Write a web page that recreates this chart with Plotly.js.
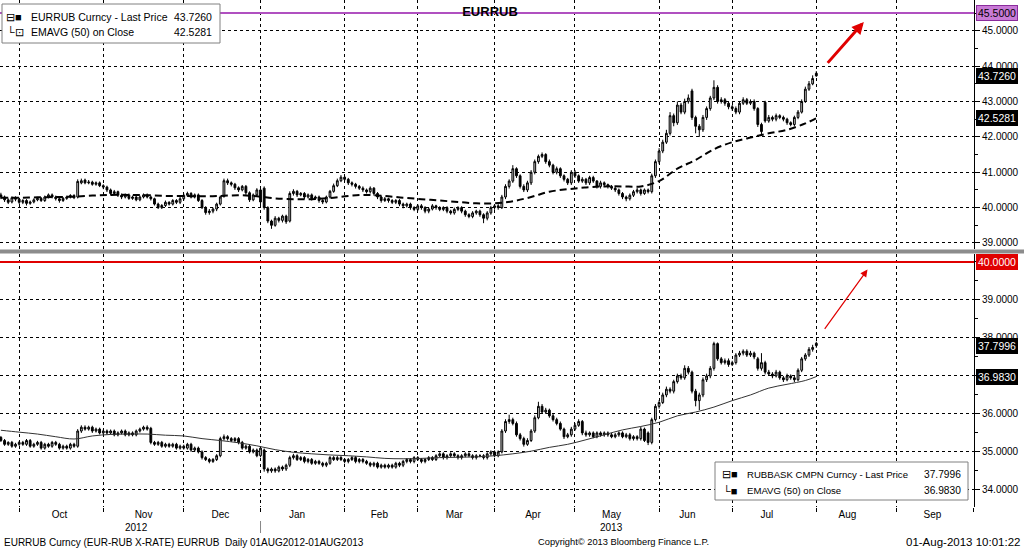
<!DOCTYPE html>
<html><head><meta charset="utf-8">
<script src="https://cdn.plot.ly/plotly-3.0.1.min.js"></script>
<style>html,body{margin:0;padding:0;background:#fff;}#chart{width:1024px;height:549px;}</style>
</head><body><div id="chart"></div>
<script>
// ---------- DATA ----------
// EURRUB daily OHLC (24-Sep-2012 .. 01-Aug-2013), one line per month
const eurOpen = [
 40.36,40.30,40.22,40.16,40.28,
 40.24,40.15,40.20,40.12,40.16,40.22,40.26,40.20,40.30,40.36,40.30,40.25,40.20,40.26,40.30,40.34,40.30,40.70,40.78,40.70,40.72,40.66,40.70,
 40.62,40.58,40.50,40.40,40.45,40.35,40.30,40.36,40.26,40.30,40.22,40.30,40.36,40.30,40.25,40.10,40.00,40.06,40.15,40.10,40.20,40.15,
 40.25,40.35,40.40,40.30,40.36,40.20,40.00,39.86,39.90,39.96,40.10,40.32,40.76,40.70,40.66,40.56,40.50,40.60,40.42,40.22,40.36,
 40.50,40.55,40.00,39.62,39.50,39.70,39.64,39.76,39.62,40.40,40.46,40.36,40.40,40.30,40.36,40.26,40.30,40.20,40.16,40.30,40.46,40.62,40.76,
 40.86,40.80,40.70,40.66,40.60,40.55,40.50,40.45,40.55,40.40,40.30,40.20,40.25,40.20,40.15,40.20,40.10,40.05,40.10,40.00,
 39.95,40.05,40.00,39.90,39.96,40.05,40.00,39.95,40.00,39.90,39.85,39.95,40.00,39.90,39.80,39.75,39.85,39.90,39.80,39.70,39.85,
 40.00,40.05,40.00,40.30,40.60,40.75,41.10,40.90,40.60,40.50,40.70,41.00,41.30,41.45,41.50,41.30,41.20,41.00,41.10,40.90,40.80,40.70,
 41.00,40.90,40.75,40.80,40.70,40.85,40.75,40.60,40.70,40.65,40.60,40.55,40.50,40.40,40.30,40.25,40.35,40.45,40.50,40.40,40.50,40.45,40.90,
 41.30,41.60,41.85,42.10,42.60,42.40,42.90,42.70,43.00,43.30,42.55,42.30,42.20,42.55,42.80,43.10,43.40,43.00,43.05,42.95,
 42.85,42.80,42.70,42.95,43.05,42.95,43.00,42.80,42.35,42.98,42.45,42.55,42.50,42.60,42.55,42.50,42.40,42.35,42.55,42.70,43.00,43.35,43.50,
 43.80];
const eurHigh = [
 40.42,40.34,40.26,40.32,40.32,
 40.28,40.24,40.24,40.20,40.26,40.30,40.30,40.34,40.40,40.40,40.34,40.28,40.30,40.34,40.38,40.38,40.80,40.82,40.82,40.78,40.76,40.74,40.74,
 40.66,40.62,40.54,40.50,40.48,40.40,40.40,40.40,40.34,40.34,40.34,40.40,40.40,40.34,40.28,40.14,40.10,40.20,40.18,40.24,40.24,40.30,
 40.40,40.45,40.44,40.40,40.40,40.24,40.04,39.96,40.00,40.14,40.34,40.82,40.82,40.74,40.70,40.60,40.64,40.64,40.46,40.40,40.55,
 40.55,40.60,40.04,39.66,39.76,39.74,39.80,39.80,40.46,40.52,40.50,40.44,40.44,40.40,40.40,40.34,40.34,40.24,40.34,40.50,40.68,40.82,40.92,
 40.90,40.84,40.74,40.70,40.64,40.60,40.54,40.60,40.58,40.44,40.34,40.30,40.28,40.24,40.24,40.24,40.14,40.14,40.14,40.04,
 40.10,40.10,40.04,40.00,40.10,40.08,40.04,40.04,40.04,39.94,40.00,40.04,40.04,39.94,39.84,39.90,39.94,39.94,39.84,39.90,40.05,
 40.10,40.10,40.36,40.66,40.80,41.20,41.14,40.94,40.66,40.76,41.06,41.36,41.50,41.56,41.54,41.36,41.24,41.16,41.14,40.94,40.84,41.06,
 41.06,40.94,40.86,40.84,40.90,40.90,40.78,40.76,40.74,40.68,40.64,40.58,40.54,40.44,40.34,40.40,40.50,40.56,40.54,40.54,40.54,40.96,41.36,
 41.68,41.92,42.20,42.70,42.66,43.00,42.96,43.08,43.20,43.36,42.60,42.36,42.62,42.86,43.16,43.60,43.46,43.12,43.10,43.00,
 42.90,42.86,43.00,43.12,43.10,43.06,43.06,42.84,42.40,43.02,42.62,42.60,42.66,42.64,42.60,42.54,42.44,42.60,42.76,43.06,43.42,43.58,43.74,
 43.86];
const eurLow = [
 40.24,40.16,40.10,40.12,40.18,
 40.10,40.10,40.06,40.08,40.12,40.18,40.16,40.16,40.26,40.26,40.20,40.14,40.16,40.22,40.26,40.24,40.26,40.66,40.66,40.66,40.62,40.62,40.58,
 40.52,40.44,40.34,40.36,40.30,40.24,40.26,40.22,40.22,40.18,40.18,40.26,40.26,40.20,40.06,39.96,39.96,40.02,40.06,40.06,40.10,40.10,
 40.20,40.30,40.26,40.26,40.16,39.96,39.80,39.80,39.84,39.90,40.06,40.28,40.64,40.60,40.50,40.44,40.46,40.36,40.16,40.18,40.30,
 40.10,39.94,39.56,39.40,39.46,39.58,39.58,39.54,39.58,40.34,40.30,40.32,40.24,40.26,40.20,40.22,40.14,40.10,40.12,40.26,40.42,40.58,40.72,
 40.74,40.64,40.60,40.54,40.50,40.44,40.40,40.40,40.34,40.24,40.14,40.16,40.14,40.10,40.10,40.04,39.98,40.00,39.94,39.90,
 39.90,39.94,39.84,39.84,39.92,39.94,39.90,39.90,39.84,39.80,39.80,39.90,39.84,39.74,39.70,39.70,39.80,39.74,39.56,39.64,39.80,
 39.94,39.94,39.96,40.24,40.54,40.70,40.84,40.54,40.44,40.44,40.64,40.94,41.24,41.40,41.24,41.14,40.94,40.94,40.84,40.74,40.64,40.64,
 40.84,40.70,40.70,40.64,40.64,40.70,40.54,40.54,40.60,40.54,40.50,40.44,40.34,40.24,40.18,40.20,40.30,40.40,40.34,40.36,40.40,40.40,40.84,
 41.24,41.54,41.80,42.04,42.30,42.34,42.64,42.64,42.94,42.48,42.10,42.00,42.14,42.48,42.74,43.04,42.94,42.94,42.88,42.78,
 42.74,42.64,42.64,42.90,42.90,42.90,42.74,42.28,42.05,42.40,42.40,42.44,42.44,42.50,42.44,42.34,42.30,42.30,42.50,42.66,42.96,43.30,43.46,
 43.70];
const eurClose = [
 40.30,40.22,40.15,40.28,40.24,
 40.15,40.20,40.12,40.16,40.22,40.26,40.20,40.30,40.36,40.30,40.25,40.20,40.26,40.30,40.34,40.28,40.74,40.76,40.70,40.72,40.66,40.70,40.62,
 40.58,40.50,40.40,40.45,40.35,40.30,40.36,40.26,40.30,40.22,40.30,40.36,40.30,40.25,40.10,40.00,40.06,40.15,40.10,40.20,40.15,40.25,
 40.35,40.40,40.30,40.36,40.20,40.00,39.86,39.90,39.96,40.10,40.30,40.76,40.70,40.66,40.56,40.50,40.60,40.42,40.22,40.36,40.50,
 40.16,40.00,39.62,39.50,39.70,39.64,39.76,39.60,40.40,40.46,40.36,40.40,40.30,40.36,40.26,40.30,40.20,40.16,40.30,40.46,40.62,40.76,40.86,
 40.80,40.70,40.66,40.60,40.55,40.50,40.45,40.55,40.40,40.30,40.20,40.25,40.20,40.15,40.20,40.10,40.05,40.10,40.00,39.95,
 40.05,40.00,39.90,39.96,40.05,40.00,39.95,40.00,39.90,39.85,39.95,40.00,39.90,39.80,39.75,39.85,39.90,39.80,39.70,39.85,40.00,
 40.05,40.00,40.30,40.60,40.75,41.10,40.90,40.60,40.50,40.70,41.00,41.30,41.45,41.50,41.30,41.20,41.00,41.10,40.90,40.80,40.70,41.00,
 40.90,40.75,40.80,40.70,40.85,40.75,40.60,40.70,40.65,40.60,40.55,40.50,40.40,40.30,40.25,40.35,40.45,40.50,40.40,40.50,40.45,40.90,41.30,
 41.60,41.85,42.10,42.60,42.40,42.90,42.70,43.00,43.10,42.55,42.30,42.20,42.55,42.80,43.10,43.40,43.00,43.05,42.95,42.85,
 42.80,42.70,42.95,43.05,42.95,43.00,42.80,42.35,42.15,42.45,42.55,42.50,42.60,42.55,42.50,42.40,42.35,42.55,42.70,43.00,43.35,43.50,43.65,
 43.726];

// RUBBASK CMPN daily OHLC
const basOpen = [
 35.38,35.30,35.20,35.25,35.15,
 35.20,35.25,35.20,35.30,35.15,35.20,35.25,35.10,35.20,35.15,35.25,35.20,35.10,35.15,35.10,35.20,35.15,35.55,35.65,35.60,35.65,35.55,35.60,
 35.50,35.55,35.50,35.55,35.45,35.50,35.55,35.45,35.50,35.45,35.55,35.60,35.65,35.62,35.25,35.20,35.25,35.15,35.20,35.15,35.20,35.10,
 35.15,35.10,35.20,35.05,35.10,35.00,34.85,34.80,34.75,34.80,34.90,35.35,35.40,35.35,35.30,35.35,35.25,35.10,35.15,35.00,35.05,
 34.90,35.05,34.55,34.50,34.55,34.50,34.60,34.55,34.65,34.85,34.90,34.80,34.85,34.75,34.80,34.70,34.75,34.70,34.65,34.70,34.85,34.80,34.85,
 34.80,34.75,34.80,34.85,34.75,34.80,34.75,34.70,34.65,34.70,34.60,34.65,34.60,34.65,34.60,34.70,34.65,34.75,34.80,34.75,
 34.85,34.80,34.75,34.80,34.85,34.80,34.90,34.95,34.85,34.90,34.95,34.90,34.85,34.90,34.95,34.90,34.85,34.90,34.90,34.85,34.95,
 35.00,34.90,35.00,35.55,35.80,35.85,35.75,35.45,35.35,35.20,35.30,35.55,35.90,36.20,36.05,36.10,35.95,35.85,35.75,35.60,35.40,35.45,
 35.60,35.70,35.80,35.50,35.45,35.50,35.40,35.50,35.45,35.50,35.45,35.40,35.45,35.50,35.40,35.45,35.35,35.40,35.35,35.60,35.50,35.25,35.85,
 36.20,36.30,36.50,36.65,36.60,36.85,37.00,36.95,37.20,37.10,36.60,36.35,36.50,36.90,37.00,37.20,37.85,37.45,37.35,37.40,
 37.30,37.35,37.55,37.60,37.65,37.55,37.60,37.45,37.20,37.35,37.10,37.05,37.00,37.10,36.95,36.90,37.00,36.95,36.90,37.15,37.45,37.55,37.70,
 37.86];
const basHigh = [
 35.42,35.34,35.28,35.29,35.24,
 35.29,35.29,35.34,35.34,35.24,35.29,35.29,35.24,35.24,35.29,35.29,35.24,35.19,35.19,35.24,35.24,35.60,35.70,35.70,35.69,35.69,35.64,35.64,
 35.59,35.59,35.59,35.59,35.54,35.59,35.59,35.54,35.54,35.59,35.64,35.69,35.70,35.66,35.29,35.29,35.29,35.24,35.24,35.24,35.24,35.19,
 35.19,35.24,35.24,35.14,35.14,35.04,34.89,34.84,34.84,34.94,35.40,35.46,35.44,35.39,35.39,35.39,35.29,35.19,35.19,35.09,35.09,
 35.14,35.09,34.59,34.59,34.59,34.64,34.64,34.69,34.90,34.95,34.94,34.89,34.89,34.84,34.84,34.79,34.79,34.74,34.74,34.89,34.89,34.89,34.89,
 34.84,34.84,34.89,34.89,34.84,34.84,34.79,34.74,34.74,34.74,34.69,34.69,34.69,34.69,34.74,34.74,34.79,34.84,34.84,34.89,
 34.89,34.84,34.84,34.89,34.89,34.94,34.99,34.99,34.94,34.99,34.99,34.94,34.94,34.99,34.99,34.94,34.94,34.94,34.94,34.99,35.04,
 35.04,35.04,35.60,35.86,35.98,35.90,35.80,35.50,35.40,35.36,35.60,35.96,36.32,36.26,36.16,36.14,36.00,35.90,35.80,35.64,35.50,35.66,
 35.76,35.86,35.84,35.56,35.54,35.54,35.54,35.54,35.54,35.54,35.50,35.50,35.54,35.54,35.50,35.50,35.44,35.44,35.66,35.64,35.54,35.90,36.26,
 36.36,36.56,36.72,36.70,36.90,37.06,37.06,37.28,37.26,37.14,36.66,36.56,36.96,37.06,37.26,37.90,37.88,37.50,37.46,37.46,
 37.40,37.60,37.66,37.70,37.70,37.66,37.64,37.50,37.60,37.40,37.16,37.10,37.16,37.14,37.00,37.06,37.04,37.00,37.20,37.50,37.60,37.76,37.82,
 37.90];
const basLow = [
 35.26,35.16,35.16,35.11,35.11,
 35.16,35.16,35.16,35.11,35.11,35.16,35.06,35.06,35.11,35.11,35.16,35.06,35.06,35.06,35.06,35.11,35.11,35.50,35.56,35.56,35.50,35.51,35.46,
 35.46,35.46,35.46,35.41,35.41,35.46,35.41,35.41,35.41,35.41,35.51,35.56,35.56,35.20,35.16,35.16,35.11,35.11,35.11,35.11,35.06,35.06,
 35.06,35.06,35.00,35.00,34.96,34.80,34.76,34.70,34.71,34.76,34.86,35.30,35.30,35.26,35.26,35.20,35.06,35.06,34.96,34.96,34.86,
 34.86,34.48,34.44,34.45,34.45,34.46,34.50,34.50,34.60,34.80,34.76,34.76,34.70,34.70,34.66,34.66,34.66,34.60,34.60,34.66,34.76,34.76,34.76,
 34.70,34.70,34.76,34.70,34.70,34.70,34.66,34.60,34.60,34.56,34.56,34.56,34.56,34.56,34.56,34.60,34.60,34.70,34.70,34.70,
 34.76,34.70,34.70,34.76,34.76,34.76,34.86,34.80,34.80,34.86,34.86,34.80,34.80,34.86,34.86,34.80,34.80,34.86,34.80,34.80,34.90,
 34.86,34.86,34.96,35.50,35.74,35.70,35.40,35.30,35.14,35.16,35.26,35.50,35.86,36.00,36.00,35.90,35.80,35.70,35.56,35.34,35.36,35.40,
 35.56,35.66,35.44,35.40,35.40,35.36,35.36,35.40,35.40,35.40,35.36,35.36,35.40,35.36,35.36,35.30,35.30,35.30,35.30,35.26,35.18,35.20,35.80,
 36.14,36.26,36.44,36.54,36.54,36.80,36.90,36.90,37.04,36.54,36.20,36.10,36.44,36.84,36.94,37.14,37.40,37.30,37.30,37.24,
 37.26,37.30,37.50,37.54,37.50,37.50,37.44,37.14,37.14,37.04,37.00,36.94,36.96,36.90,36.84,36.86,36.90,36.84,36.86,37.10,37.40,37.50,37.64,
 37.74];
const basClose = [
 35.30,35.20,35.25,35.15,35.20,
 35.25,35.20,35.30,35.15,35.20,35.25,35.10,35.20,35.15,35.25,35.20,35.10,35.15,35.10,35.20,35.15,35.55,35.65,35.60,35.65,35.55,35.60,35.50,
 35.55,35.50,35.55,35.45,35.50,35.55,35.45,35.50,35.45,35.55,35.60,35.65,35.60,35.25,35.20,35.25,35.15,35.20,35.15,35.20,35.10,35.15,
 35.10,35.20,35.05,35.10,35.00,34.85,34.80,34.75,34.80,34.90,35.35,35.40,35.35,35.30,35.35,35.25,35.10,35.15,35.00,35.05,34.90,
 35.10,34.55,34.50,34.55,34.50,34.60,34.55,34.65,34.85,34.90,34.80,34.85,34.75,34.80,34.70,34.75,34.70,34.65,34.70,34.85,34.80,34.85,34.80,
 34.75,34.80,34.85,34.75,34.80,34.75,34.70,34.65,34.70,34.60,34.65,34.60,34.65,34.60,34.70,34.65,34.75,34.80,34.75,34.85,
 34.80,34.75,34.80,34.85,34.80,34.90,34.95,34.85,34.90,34.95,34.90,34.85,34.90,34.95,34.90,34.85,34.90,34.90,34.85,34.95,35.00,
 34.90,35.00,35.55,35.80,35.85,35.75,35.45,35.35,35.20,35.30,35.55,35.90,36.20,36.05,36.10,35.95,35.85,35.75,35.60,35.40,35.45,35.60,
 35.70,35.80,35.50,35.45,35.50,35.40,35.50,35.45,35.50,35.45,35.40,35.45,35.50,35.40,35.45,35.35,35.40,35.35,35.60,35.30,35.25,35.85,36.20,
 36.30,36.50,36.65,36.60,36.85,37.00,36.95,37.20,37.10,36.60,36.35,36.50,36.90,37.00,37.20,37.85,37.45,37.35,37.40,37.30,
 37.35,37.55,37.60,37.65,37.55,37.60,37.50,37.20,37.35,37.10,37.05,37.00,37.10,36.95,36.90,37.00,36.95,36.90,37.15,37.45,37.55,37.70,37.75,
 37.7996];

// EMA(50) on close, read weekly (Mondays) plus the last day
const emaDates = ['2012-09-24','2012-10-01','2012-10-08','2012-10-15','2012-10-22','2012-10-29','2012-11-05','2012-11-12','2012-11-19','2012-11-26',
 '2012-12-03','2012-12-10','2012-12-17','2012-12-24','2012-12-31','2013-01-07','2013-01-14','2013-01-21','2013-01-28','2013-02-04',
 '2013-02-11','2013-02-18','2013-02-25','2013-03-04','2013-03-11','2013-03-18','2013-03-25','2013-04-01','2013-04-08','2013-04-15',
 '2013-04-22','2013-04-29','2013-05-06','2013-05-13','2013-05-20','2013-05-27','2013-06-03','2013-06-10','2013-06-17','2013-06-24',
 '2013-07-01','2013-07-08','2013-07-15','2013-07-22','2013-07-29','2013-08-01'];
const eurEma = [40.28,40.28,40.29,40.30,40.31,40.34,40.36,40.36,40.35,40.33,
 40.33,40.32,40.33,40.35,40.32,40.26,40.24,40.24,40.27,40.33,
 40.36,40.33,40.28,40.24,40.20,40.16,40.12,40.12,40.18,40.30,
 40.45,40.52,40.57,40.60,40.60,40.60,40.75,41.10,41.35,41.65,
 41.85,41.98,42.10,42.20,42.38,42.5281];
const basEma = [35.57,35.52,35.47,35.40,35.34,35.42,35.46,35.47,35.47,35.44,
 35.42,35.35,35.30,35.24,35.16,35.06,34.99,34.95,34.92,34.90,
 34.87,34.83,34.82,34.83,34.85,34.86,34.87,34.90,34.95,35.02,
 35.12,35.20,35.32,35.45,35.58,35.67,35.78,35.95,36.05,36.18,
 36.35,36.50,36.68,36.78,36.88,36.983];

// reference levels
const eurLevel = 45.5;
const basLevel = 40.0;

// axis ticks
const eurTicks = [39,40,41,42,43,44,45];
const basTicks = [34,35,36,37,38,39,40];
const basHiddenLabels = [37,40]; // labels covered by the value tags
const monthStarts = ['2012-10-01','2012-11-01','2012-12-03','2013-01-01','2013-02-01','2013-03-01','2013-04-01','2013-05-01','2013-06-03','2013-07-01','2013-08-01','2013-09-02','2013-10-01'];
const monthLabelAt = ['2012-10-16','2012-11-16','2012-12-17','2013-01-15','2013-02-14 12:00','2013-03-15','2013-04-15 12:00','2013-05-15','2013-06-12 18:00','2013-07-12 12:00','2013-08-13 12:00','2013-09-13 18:00'];
const monthNames = ['Oct','Nov','Dec','Jan','Feb','Mar','Apr','May','Jun','Jul','Aug','Sep'];
const yearLabels = ['2012','2013'];
const yearLabelAt = ['2012-11-14','2013-05-15'];
const yearBoundary = '2013-01-01';

// trading calendar (weekdays)
function weekdays(a,b){const out=[];let d=new Date(a+'T00:00:00Z');const e=new Date(b+'T00:00:00Z');
 while(d<=e){const w=d.getUTCDay();if(w!==0&&w!==6)out.push(d.toISOString().slice(0,10));d=new Date(d.getTime()+86400000);}return out;}
const dates = weekdays('2012-09-24','2013-08-01');

// ---------- LAYOUT HELPERS ----------
const PW=974, PH=507;
const px = v => v/PW;
const py = v => (PH - v)/PH;
const FONT = 'Liberation Sans, Arial, sans-serif';

const candleStyle = {
  increasing:{line:{color:'#000',width:1},fillcolor:'#c4c4c4'},
  decreasing:{line:{color:'#000',width:1},fillcolor:'#000'},
  whiskerwidth:0, hoverinfo:'skip', showlegend:false
};

const traces = [
  Object.assign({type:'candlestick',x:dates,open:eurOpen,high:eurHigh,low:eurLow,close:eurClose,xaxis:'x',yaxis:'y'},candleStyle),
  {type:'scatter',mode:'lines',x:emaDates,y:eurEma,xaxis:'x',yaxis:'y',line:{color:'#000',width:2,dash:'7px,4px',shape:'spline'},hoverinfo:'skip',showlegend:false},
  Object.assign({type:'candlestick',x:dates,open:basOpen,high:basHigh,low:basLow,close:basClose,xaxis:'x',yaxis:'y2'},candleStyle),
  {type:'scatter',mode:'lines',x:emaDates,y:basEma,xaxis:'x',yaxis:'y2',line:{color:'#333',width:1,shape:'spline'},hoverinfo:'skip',showlegend:false}
];

const yCommon = {
  side:'right', tickmode:'array', showgrid:true, gridcolor:'#000', griddash:'dot', gridwidth:1,
  ticks:'outside', ticklen:5, tickcolor:'#000', zeroline:false, showline:true, linecolor:'#000', linewidth:1,
  tickfont:{family:FONT,size:10,color:'#000'},
  minor:{dtick:0.5, ticks:'outside', ticklen:3, tickcolor:'#000', showgrid:false}
};

const lastEur = eurClose[eurClose.length-1], lastEurEma = eurEma[eurEma.length-1];
const lastBas = basClose[basClose.length-1], lastBasEma = basEma[basEma.length-1];

function tag(y, yref, val, bg, fg, border){
  return {xref:'paper',x:1,xanchor:'left',xshift:2,yref:yref,y:y,yanchor:'middle',text:val.toFixed(4),showarrow:false,
    bgcolor:bg,bordercolor:border||bg,borderwidth:1,borderpad:1,font:{family:FONT,size:10.5,color:fg}};
}
function txt(x,y,t,anchor,size,extra){
  return Object.assign({xref:'paper',yref:'paper',x:x,y:y,xanchor:anchor,yanchor:'middle',text:t,showarrow:false,font:{family:FONT,size:size,color:'#000'}},extra||{});
}

const layout = {
  width:1024, height:549, margin:{l:0,r:50,t:0,b:42}, paper_bgcolor:'#fff', plot_bgcolor:'#fff',
  showlegend:false,
  title:{text:'<b>EURRUB</b>', x:490/1024, xanchor:'center', y:1-11/549, yanchor:'middle', font:{family:FONT,size:13,color:'#000'}},
  xaxis:{type:'date', range:['2012-09-21 18:00','2013-10-01 03:00'], rangebreaks:[{bounds:['sat','mon']}],
    anchor:'y2', rangeslider:{visible:false}, tickmode:'array', tickvals:monthLabelAt, ticktext:monthNames,
    ticks:'', showgrid:false, zeroline:false, showline:false, tickfont:{family:FONT,size:10,color:'#000'},
    minor:{tickmode:'array', tickvals:monthStarts, showgrid:true, gridcolor:'#000', griddash:'dot', gridwidth:1, ticks:'outside', ticklen:4, tickcolor:'#000'}},
  yaxis:Object.assign({}, yCommon, {domain:[py(249),1], range:[38.83,45.87], anchor:'x',
    tickvals:eurTicks, ticktext:eurTicks.map(v=>v.toFixed(4))}),
  yaxis2:Object.assign({}, yCommon, {domain:[0,py(254)], range:[33.55,40.21], anchor:'x',
    tickvals:basTicks, ticktext:basTicks.map(v=>basHiddenLabels.includes(v)?'':v.toFixed(4))}),
  shapes:[
    {type:'rect',xref:'paper',yref:'paper',x0:0,x1:1024/PW,y0:py(253.5),y1:py(249.5),fillcolor:'#8c8c8c',line:{width:0},layer:'above'},
    {type:'line',xref:'paper',x0:0,x1:1,yref:'y',y0:eurLevel,y1:eurLevel,line:{color:'#b050c0',width:2},layer:'above'},
    {type:'line',xref:'paper',x0:0,x1:1,yref:'y2',y0:basLevel,y1:basLevel,line:{color:'#e00000',width:2},layer:'above'},
    {type:'rect',xref:'paper',yref:'paper',x0:px(2),x1:px(220),y0:py(43),y1:py(4),fillcolor:'#fff',line:{color:'#808080',width:1},layer:'above'},
    {type:'rect',xref:'paper',yref:'paper',x0:px(715),x1:px(968),y0:py(500),y1:py(462),fillcolor:'#fff',line:{color:'#808080',width:1},layer:'above'},
    {type:'line',xref:'x',x0:yearBoundary,x1:yearBoundary,yref:'paper',y0:py(521),y1:py(533),line:{color:'#888',width:1}}
  ],
  annotations:[
    tag(eurLevel,'y',eurLevel,'#c87ad6','#000','#8a2b9c'),
    tag(lastEur,'y',lastEur,'#000','#fff'),
    tag(lastEurEma,'y',lastEurEma,'#000','#fff'),
    tag(basLevel,'y2',basLevel,'#e00000','#fff'),
    tag(lastBas,'y2',lastBas,'#000','#fff'),
    tag(lastBasEma,'y2',lastBasEma,'#000','#fff'),
    // legend top-left
    txt(px(4),py(17),'⊟■','left',11),
    txt(px(29),py(17),'EURRUB Curncy - Last Price','left',10.5),
    txt(px(214),py(17),lastEur.toFixed(4),'right',10.5),
    txt(px(5),py(32),'└⊡','left',11),
    txt(px(29),py(32),'EMAVG (50) on Close','left',10.5),
    txt(px(214),py(32),lastEurEma.toFixed(4),'right',10.5),
    // legend bottom-right
    txt(px(720),py(474),'⊟■','left',11),
    txt(px(745),py(474),'RUBBASK CMPN Curncy - Last Price','left',9.6),
    txt(px(963),py(474),lastBas.toFixed(4),'right',10.2),
    txt(px(721),py(490),'└■','left',11),
    txt(px(745),py(490),'EMAVG (50) on Close','left',9.6),
    txt(px(963),py(490),lastBasEma.toFixed(4),'right',10.2),
    // years
    {xref:'x',x:yearLabelAt[0],yref:'paper',y:py(527),yanchor:'middle',text:yearLabels[0],showarrow:false,font:{family:FONT,size:10,color:'#000'}},
    {xref:'x',x:yearLabelAt[1],yref:'paper',y:py(527),yanchor:'middle',text:yearLabels[1],showarrow:false,font:{family:FONT,size:10,color:'#000'}},
    // footer
    txt(px(2),py(542),'EURRUB Curncy (EUR-RUB X-RATE) EURRUB  Daily 01AUG2012-01AUG2013','left',10),
    txt(px(623),py(542),'Copyright© 2013 Bloomberg Finance L.P.','center',9.3),
    txt(px(1022),py(542),'01-Aug-2013 10:01:22','right',11.5),
    // red arrows
    {xref:'x',yref:'y',x:'2013-08-20',y:45.25,axref:'x',ayref:'y',ax:'2013-08-05 18:00',ay:44.05,text:'',showarrow:true,arrowcolor:'#e00000',arrowwidth:3,arrowhead:2,arrowsize:0.8},
    {xref:'x',yref:'y2',x:'2013-08-21',y:39.8,axref:'x',ayref:'y2',ax:'2013-08-05',ay:38.2,text:'',showarrow:true,arrowcolor:'#e00000',arrowwidth:1.2,arrowhead:2,arrowsize:1.2}
  ]
};

Plotly.newPlot('chart', traces, layout, {displayModeBar:false, staticPlot:true});
</script>
</body></html>
